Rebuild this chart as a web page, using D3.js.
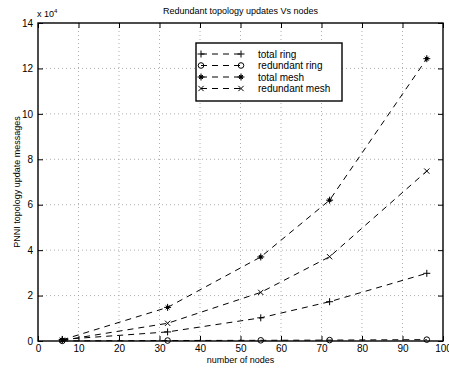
<!DOCTYPE html>
<html>
<head>
<meta charset="utf-8">
<script src="https://cdn.jsdelivr.net/npm/d3@7"></script>
<style>
  body { margin: 0; background: #fff; }
  text { font-family: "Liberation Sans", Arial, sans-serif; fill: #000; }
</style>
</head>
<body>
<div id="chart"></div>
<script>
// data (values in messages)
var nodes = [6, 32, 55, 72, 96];
var totalRing = [700, 4000, 10200, 17300, 29800];
var redundantRing = [50, 200, 300, 400, 600];
var totalMesh = [500, 14800, 37000, 62000, 124300];
var redundantMesh = [300, 7800, 21400, 37100, 74800];
var seriesNames = ["total ring", "redundant ring", "total mesh", "redundant mesh"];
var seriesMarkers = ["plus", "circle", "star", "cross"];
var xTicks = [0, 10, 20, 30, 40, 50, 60, 70, 80, 90, 100];
var yTicks = [0, 2, 4, 6, 8, 10, 12, 14];

var W = 449, H = 369;
var margin = {top: 23, right: 6, bottom: 28, left: 38};
var width = W - margin.left - margin.right;
var height = H - margin.top - margin.bottom;

var svg = d3.select("#chart").append("svg")
    .attr("width", W)
    .attr("height", H);

var g = svg.append("g")
    .attr("transform", "translate(" + margin.left + "," + margin.top + ")");

var x = d3.scaleLinear().domain([0, 100]).range([0, width]);
var y = d3.scaleLinear().domain([0, 14e4]).range([height, 0]);

// dotted grid
g.append("g").selectAll("line").data(xTicks.slice(1, -1)).enter().append("line")
    .attr("x1", function(d) { return x(d); }).attr("x2", function(d) { return x(d); })
    .attr("y1", 0).attr("y2", height)
    .attr("stroke", "#999").attr("stroke-width", 0.8).attr("stroke-dasharray", "1,3");
g.append("g").selectAll("line").data(yTicks.slice(1, -1)).enter().append("line")
    .attr("y1", function(d) { return y(d * 1e4); }).attr("y2", function(d) { return y(d * 1e4); })
    .attr("x1", 0).attr("x2", width)
    .attr("stroke", "#999").attr("stroke-width", 0.8).attr("stroke-dasharray", "1,3");

// axes, ticks pointing inward
var xAxis = d3.axisBottom(x).tickValues(xTicks).tickSizeInner(-5).tickSizeOuter(0).tickPadding(4);
var yAxis = d3.axisLeft(y).tickValues(yTicks.map(function(d) { return d * 1e4; }))
    .tickFormat(function(d) { return d / 1e4; }).tickSizeInner(-5).tickSizeOuter(0).tickPadding(5);

g.append("g").attr("transform", "translate(0," + height + ")").call(xAxis);
g.append("g").call(yAxis);
g.append("g").call(d3.axisTop(x).tickValues(xTicks).tickSizeInner(-5).tickSizeOuter(0).tickFormat(""));
g.append("g").attr("transform", "translate(" + width + ",0)")
    .call(d3.axisRight(y).tickValues(yTicks.map(function(d) { return d * 1e4; })).tickSizeInner(-5).tickSizeOuter(0).tickFormat(""));

g.selectAll(".domain").remove();
g.selectAll(".tick line").attr("stroke", "#000");
g.selectAll(".tick text").style("font-size", "10px").style("font-family", "Liberation Sans, Arial, sans-serif");

g.append("rect").attr("width", width).attr("height", height)
    .attr("fill", "none").attr("stroke", "#000").attr("stroke-width", 1.4);

// markers
function marker(sel, type, s) {
  if (type === "plus") {
    sel.append("path").attr("d", "M" + (-s) + ",0H" + s + "M0," + (-s) + "V" + s)
      .attr("stroke", "#000").attr("stroke-width", 1);
  } else if (type === "circle") {
    sel.append("circle").attr("r", s * 0.8).attr("fill", "none").attr("stroke", "#000").attr("stroke-width", 1);
  } else if (type === "cross") {
    var c = s * 0.75;
    sel.append("path").attr("d", "M" + (-c) + "," + (-c) + "L" + c + "," + c + "M" + (-c) + "," + c + "L" + c + "," + (-c))
      .attr("stroke", "#000").attr("stroke-width", 1);
  } else {
    var a = s * 0.8;
    sel.append("path").attr("d", "M" + (-s) + ",0H" + s + "M0," + (-s) + "V" + s +
        "M" + (-a * 0.7) + "," + (-a * 0.7) + "L" + (a * 0.7) + "," + (a * 0.7) +
        "M" + (-a * 0.7) + "," + (a * 0.7) + "L" + (a * 0.7) + "," + (-a * 0.7))
      .attr("stroke", "#000").attr("stroke-width", 1);
    sel.append("circle").attr("r", 1.8).attr("fill", "#000");
  }
}

var allSeries = [totalRing, redundantRing, totalMesh, redundantMesh];
var line = d3.line()
    .x(function(d, i) { return x(nodes[i]); })
    .y(function(d) { return y(d); });

allSeries.forEach(function(vals, k) {
  g.append("path").datum(vals)
    .attr("d", line)
    .attr("fill", "none").attr("stroke", "#000").attr("stroke-width", 1)
    .attr("stroke-dasharray", "6,5");
  vals.forEach(function(v, i) {
    var m = g.append("g").attr("transform", "translate(" + x(nodes[i]) + "," + y(v) + ")");
    marker(m, seriesMarkers[k], 3.5);
  });
});

// legend
var lg = svg.append("g").attr("transform", "translate(196,43)");
lg.append("rect").attr("width", 146).attr("height", 58)
    .attr("fill", "#fff").attr("stroke", "#000").attr("stroke-width", 1.4);
seriesNames.forEach(function(name, k) {
  var yy = 11 + k * 11.5;
  lg.append("line").attr("x1", 5).attr("x2", 45).attr("y1", yy).attr("y2", yy)
    .attr("stroke", "#000").attr("stroke-width", 1).attr("stroke-dasharray", "6,5");
  marker(lg.append("g").attr("transform", "translate(5," + yy + ")"), seriesMarkers[k], 3.5);
  marker(lg.append("g").attr("transform", "translate(45," + yy + ")"), seriesMarkers[k], 3.5);
  lg.append("text").attr("x", 62).attr("y", yy + 3.5).style("font-size", "10px").text(name);
});

// titles
svg.append("text").attr("x", margin.left + width / 2).attr("y", 14)
    .attr("text-anchor", "middle").style("font-size", "9px")
    .text("Redundant topology updates Vs nodes");
svg.append("text").attr("x", margin.left + width / 2).attr("y", 363)
    .attr("text-anchor", "middle").style("font-size", "9px")
    .text("number of nodes");
svg.append("text")
    .attr("transform", "translate(20," + (margin.top + height / 2) + ") rotate(-90)")
    .attr("text-anchor", "middle").style("font-size", "9px")
    .text("PNNI topology update messages");
var ex = svg.append("text").attr("x", 37).attr("y", 17).style("font-size", "9px");
ex.append("tspan").text("x 10");
ex.append("tspan").attr("dy", -4).style("font-size", "6px").text("4");
</script>
</body>
</html>
